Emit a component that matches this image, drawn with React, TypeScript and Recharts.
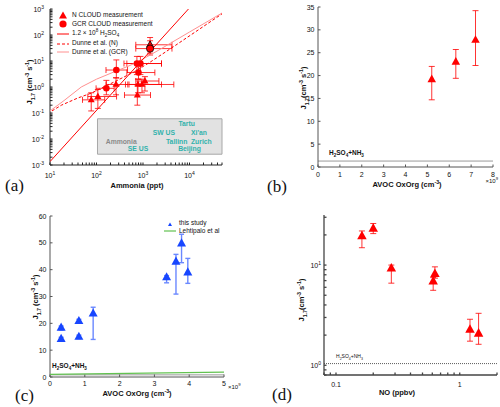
import React from "react";
import {
  ComposedChart,
  Scatter,
  XAxis,
  YAxis,
  ErrorBar,
  ReferenceArea,
  ReferenceLine,
  ReferenceDot,
} from "recharts";

const SANS = "'Liberation Sans', Arial, Helvetica, sans-serif";
const SERIF = "'Liberation Serif', 'Times New Roman', serif";
const RED = "#ff0000";
const PINK = "#ff9090";
const BLUE = "#1746ff";
const LIGHTBLUE = "#6a88ff";
const GREEN = "#62c250";
const TEAL = "#33b2ac";

// ---------- (a) J vs ammonia ----------
const nX = [77, 107, 263, 755, 780, 950, 1100, 1420];
const nY = [0.32, 0.43, 1.25, 0.49, 1.25, 1.25, 1.7, 42];
const nXLo = [50, 65, 160, 400, 420, 500, 700, 700];
const nXHi = [150, 270, 470, 1450, 2500, 4600, 2200, 4200];
const nYLo = [0.12, 0.15, 0.5, 0.2, 0.6, 0.6, 0.7, 20];
const nYHi = [0.6, 0.8, 2.3, 1.2, 2.0, 2.0, 2.5, 80];

const gX = [163, 267, 740, 880, 800, 1420];
const gY = [0.89, 4.5, 8, 8, 3.6, 30];
const gXLo = [98, 160, 390, 450, 450, 700];
const gXHi = [240, 465, 2500, 2500, 1800, 4200];
const gYLo = [0.5, 2.2, 3, 3, 2, 17];
const gYHi = [1.8, 11, 15, 15, 6, 60];

const fitX = [10, 9500];
const fitY = [0.00135, 1000];
const dunneNX = [11, 17.6, 40, 77, 246, 660, 1420, 5000, 50000];
const dunneNY = [0.12, 0.2, 0.38, 0.58, 1.6, 3.9, 9, 40, 650];
const dunneGX = [10, 20, 47, 100, 246, 500, 780, 2000, 10000, 50000];
const dunneGY = [0.12, 0.3, 1.0, 2.0, 3.9, 6.5, 9.3, 24, 130, 700];

const siteNames = ["Ammonia", "SE US", "SW US", "Tartu", "Tallinn", "Xi'an", "Zurich", "Beijing"];
const siteX = [340, 780, 2800, 8700, 5300, 16000, 18000, 10000];
const siteY = [0.0083, 0.0042, 0.017, 0.038, 0.0083, 0.017, 0.0083, 0.0042];

// ---------- (b) J vs AVOC OxOrg (x 1e9) ----------
const bX = [5.2, 6.3, 7.2];
const bY = [19.2, 23, 27.8];
const bLo = [14.7, 19.4, 22.2];
const bHi = [22, 25.7, 34.2];
const bBase = 1.3;

// ---------- (c) this study vs Lehtipalo ----------
const cX = [0.32, 0.32, 0.83, 0.83, 1.24, 3.35, 3.62, 3.78, 3.96];
const cY = [18.4, 14.2, 20.9, 15.0, 23.7, 37.2, 43.0, 49.8, 39.0];
const cLo = [17.5, 13.6, 20.2, 14.3, 14.0, 35.1, 30.9, 42.6, 34.9];
const cHi = [19.0, 14.8, 21.5, 15.6, 26.0, 37.8, 45.7, 53.2, 44.2];
const lehX = [0, 5];
const lehY = [1.0, 1.8];
const cBase = 0.8;

// ---------- (d) J vs NO ----------
const dX = [0.162, 0.2, 0.28, 0.61, 0.63, 1.21, 1.42];
const dY = [19.5, 23.2, 9.3, 6.9, 8.2, 2.27, 2.08];
const dLo = [14.9, 20.6, 6.6, 5.6, 7.4, 1.74, 1.62];
const dHi = [21.9, 26, 10, 7.5, 9.6, 2.88, 3.3];
const dBase = 1.04;

const bXTicks = [0, 1, 2, 3, 4, 5, 6, 7, 8];
const bYTicks = [0, 5, 10, 15, 20, 25, 30, 35];
const cXTicks = [0, 1, 2, 3, 4, 5];
const cYTicks = [0, 10, 20, 30, 40, 50, 60];

const logTicks = (lo: number, hi: number) => {
  const t: number[] = [];
  for (let e = Math.floor(Math.log10(lo)); e <= Math.ceil(Math.log10(hi)); e++)
    for (let m = 1; m < 10; m++) {
      const v = m * Math.pow(10, e);
      if (v >= lo * 0.999 && v <= hi * 1.001) t.push(v);
    }
  return t;
};
const aXTicks = logTicks(10, 50000);
const aYTicks = logTicks(0.001, 1000);
const dXTicks = logTicks(0.08, 2);
const dYTicks = logTicks(0.8, 30);

const rows = (xs: number[], ys: number[], yLo: number[], yHi: number[], xLo?: number[], xHi?: number[]) =>
  xs.map((x, i) => ({
    x,
    y: ys[i],
    ey: [ys[i] - yLo[i], yHi[i] - ys[i]],
    ex: xLo && xHi ? [x - xLo[i], xHi[i] - x] : [0, 0],
  }));
const pts = (xs: number[], ys: number[]) => xs.map((x, i) => ({ x, y: ys[i] }));

const isDecade = (v: number) => Math.abs(Math.log10(v) - Math.round(Math.log10(v))) < 1e-6;

const PowTick = (p: any) => {
  const v = p.payload.value;
  if (!isDecade(v)) return <g />;
  const e = Math.round(Math.log10(v));
  const bottom = p.side === "bottom";
  return (
    <text x={p.x} y={bottom ? p.y + 5.5 : p.y + 2.5} textAnchor={bottom ? "middle" : "end"} fontSize={7} fontFamily={SANS} fill="#111">
      <tspan>10</tspan>
      <tspan dy={-3} fontSize={5}>{e}</tspan>
    </text>
  );
};

const NumTick = (p: any) => {
  const v = p.payload.value;
  const bottom = p.side === "bottom";
  if (p.only && !p.only.some((o: number) => Math.abs(o - v) < 1e-9)) return <g />;
  return (
    <text x={p.x} y={bottom ? p.y + 5.5 : p.y + 2.5} textAnchor={bottom ? "middle" : "end"} fontSize={7} fontFamily={SANS} fill="#111">
      {v}
    </text>
  );
};

const Empty = () => <g />;

const triangle = (w: number, fill: string, stroke = "none") => (p: any) => {
  const { cx, cy } = p;
  const h = w * 0.9;
  return (
    <polygon
      points={`${cx},${cy - h * 0.62} ${cx - w / 2},${cy + h * 0.38} ${cx + w / 2},${cy + h * 0.38}`}
      fill={fill}
      stroke={stroke}
      strokeWidth={0.8}
    />
  );
};
const circle = (r: number, fill: string, stroke = "none") => (p: any) => (
  <circle cx={p.cx} cy={p.cy} r={r} fill={fill} stroke={stroke} strokeWidth={0.8} />
);

const subS: React.CSSProperties = { fontSize: "0.7em", lineHeight: 0 };

const Txt = ({ x, y, children, size = 7.5, bold = true, rotate = false, anchor = "center", color = "#111", family = SANS }: any) => (
  <div
    style={{
      position: "absolute",
      left: x,
      top: y,
      transform: `translate(${anchor === "center" ? "-50%" : anchor === "end" ? "-100%" : "0"}, -50%)${rotate ? " rotate(-90deg)" : ""}`,
      fontSize: size,
      fontWeight: bold ? "bold" : "normal",
      fontFamily: family,
      color,
      whiteSpace: "nowrap",
      lineHeight: 1,
    }}
  >
    {children}
  </div>
);

const JLabel = ({ space = true }: { space?: boolean }) => (
  <>
    J<sub style={subS}>1.7</sub>
    {space ? " " : ""}(cm<sup style={subS}>-3</sup> s<sup style={subS}>-1</sup>)
  </>
);
const H2 = () => (
  <>
    H<sub style={subS}>2</sub>SO<sub style={subS}>4</sub>+NH<sub style={subS}>3</sub>
  </>
);

const LegIcon = ({ kind }: { kind: string }) => (
  <svg width={12} height={8} style={{ display: "block" }}>
    {kind === "tri" && <polygon points="6,0.5 2,7.5 10,7.5" fill={RED} />}
    {kind === "circ" && <circle cx={6} cy={4} r={3.6} fill={RED} />}
    {kind === "solid" && <line x1={0} y1={4} x2={12} y2={4} stroke={RED} strokeWidth={1} />}
    {kind === "dash" && <line x1={0} y1={4} x2={12} y2={4} stroke={RED} strokeWidth={1} strokeDasharray="3 2" />}
    {kind === "pink" && <line x1={0} y1={4} x2={12} y2={4} stroke={PINK} strokeWidth={1} />}
    {kind === "blue" && <polygon points="6,2.5 4,6 8,6" fill={BLUE} />}
    {kind === "green" && <line x1={0} y1={4} x2={12} y2={4} stroke={GREEN} strokeWidth={1.2} />}
  </svg>
);

const LegRow = ({ x, y, kind, children }: any) => (
  <div style={{ position: "absolute", left: x, top: y - 4, display: "flex", alignItems: "center", fontSize: 6.5, fontFamily: SANS, color: "#111", whiteSpace: "nowrap", lineHeight: 1 }}>
    <LegIcon kind={kind} />
    <span style={{ marginLeft: 3 }}>{children}</span>
  </div>
);

function PanelA() {
  const dom: [number, number] = [10, 50000];
  const ydom: [number, number] = [0.001, 1000];
  const ax = "#222";
  return (
    <>
      <div style={{ position: "absolute", left: 0, top: 0 }}>
        <ComposedChart width={250} height={200} margin={{ top: 9, right: 28, left: 0, bottom: 15 }}>
          <XAxis dataKey="x" type="number" scale="log" domain={dom} allowDataOverflow ticks={aXTicks} interval={0}
            tick={(p: any) => <PowTick {...p} side="bottom" />} tickSize={-2.5} tickMargin={9.5} height={20} stroke={ax} />
          <XAxis xAxisId="top" orientation="top" type="number" scale="log" domain={dom} allowDataOverflow ticks={aXTicks}
            interval={0} tick={false} tickSize={-2.5} height={0} stroke={ax} />
          <YAxis dataKey="y" type="number" scale="log" domain={ydom} allowDataOverflow ticks={aYTicks} interval={0}
            tick={(p: any) => <PowTick {...p} side="left" />} tickSize={-2.5} tickMargin={8.5} width={50} stroke={ax} />
          <YAxis yAxisId="right" orientation="right" type="number" scale="log" domain={ydom} allowDataOverflow ticks={aYTicks}
            interval={0} tick={false} tickSize={-2.5} width={0} stroke={ax} />
          <ReferenceArea x1={105} x2={50000} y1={0.0026} y2={0.06} fill="#e2e2e2" fillOpacity={1} stroke="#a8a8a8" />
          {siteNames.map((s, i) => (
            <ReferenceDot key={s} x={siteX[i]} y={siteY[i]} r={0} fill="none" stroke="none"
              label={{ value: s, position: "center", fill: i === 0 ? "#8a8a8a" : TEAL, fontSize: 6.8, fontWeight: "bold", fontFamily: SANS }} />
          ))}
          <Scatter data={pts(dunneGX, dunneGY)} line={{ stroke: PINK, strokeWidth: 1 }} shape={Empty} isAnimationActive={false} />
          <Scatter data={pts(dunneNX, dunneNY)} line={{ stroke: RED, strokeWidth: 1, strokeDasharray: "3 2" }} shape={Empty} isAnimationActive={false} />
          <Scatter data={pts(fitX, fitY)} line={{ stroke: RED, strokeWidth: 1 }} shape={Empty} isAnimationActive={false} />
          <Scatter data={rows(nX.slice(0, 7), nY.slice(0, 7), nYLo, nYHi, nXLo, nXHi)} shape={triangle(7, RED)} isAnimationActive={false}>
            <ErrorBar dataKey="ex" direction="x" width={3} stroke={RED} strokeWidth={0.8} />
            <ErrorBar dataKey="ey" direction="y" width={3} stroke={RED} strokeWidth={0.8} />
          </Scatter>
          <Scatter data={rows(gX.slice(0, 5), gY.slice(0, 5), gYLo, gYHi, gXLo, gXHi)} shape={circle(3.3, RED)} isAnimationActive={false}>
            <ErrorBar dataKey="ex" direction="x" width={3} stroke={RED} strokeWidth={0.8} />
            <ErrorBar dataKey="ey" direction="y" width={3} stroke={RED} strokeWidth={0.8} />
          </Scatter>
          <Scatter data={rows(nX.slice(7), nY.slice(7), nYLo.slice(7), nYHi.slice(7), nXLo.slice(7), nXHi.slice(7))} shape={triangle(7, RED, "#000")} isAnimationActive={false}>
            <ErrorBar dataKey="ex" direction="x" width={3} stroke={RED} strokeWidth={0.8} />
            <ErrorBar dataKey="ey" direction="y" width={3} stroke={RED} strokeWidth={0.8} />
          </Scatter>
          <Scatter data={rows(gX.slice(5), gY.slice(5), gYLo.slice(5), gYHi.slice(5), gXLo.slice(5), gXHi.slice(5))} shape={circle(3.6, RED, "#000")} isAnimationActive={false}>
            <ErrorBar dataKey="ex" direction="x" width={3} stroke={RED} strokeWidth={0.8} />
            <ErrorBar dataKey="ey" direction="y" width={3} stroke={RED} strokeWidth={0.8} />
          </Scatter>
        </ComposedChart>
      </div>
      <LegRow x={57} y={15} kind="tri">N CLOUD measurement</LegRow>
      <LegRow x={57} y={24} kind="circ">GCR CLOUD measurement</LegRow>
      <LegRow x={57} y={33.5} kind="solid">
        1.2 × 10<sup style={subS}>8</sup> H<sub style={subS}>2</sub>SO<sub style={subS}>4</sub>
      </LegRow>
      <LegRow x={57} y={43.5} kind="dash">Dunne et al. (N)</LegRow>
      <LegRow x={57} y={52} kind="pink">Dunne et al. (GCR)</LegRow>
      <Txt x={137} y={186}>Ammonia (ppt)</Txt>
      <Txt x={30} y={82} rotate><JLabel /></Txt>
      <Txt x={5} y={185} size={17} bold={false} anchor="start" family={SERIF}>(a)</Txt>
    </>
  );
}

function PanelB() {
  const ax = "#555";
  return (
    <>
      <div style={{ position: "absolute", left: 250, top: 0 }}>
        <ComposedChart width={250} height={200} margin={{ top: 7, right: 7, left: 18, bottom: 13 }}>
          <XAxis dataKey="x" type="number" domain={[0, 8]} ticks={bXTicks} interval={0}
            tick={(p: any) => <NumTick {...p} side="bottom" />} tickSize={-2.5} tickMargin={7} height={20} stroke={ax} />
          <XAxis xAxisId="top" orientation="top" type="number" domain={[0, 8]} ticks={bXTicks} interval={0}
            tick={false} tickSize={-2.5} height={0} stroke={ax} />
          <YAxis dataKey="y" type="number" domain={[0, 35]} ticks={bYTicks} interval={0}
            tick={(p: any) => <NumTick {...p} side="left" />} tickSize={-2.5} tickMargin={6} width={50} stroke={ax} />
          <YAxis yAxisId="right" orientation="right" type="number" domain={[0, 35]} ticks={bYTicks} interval={0}
            tick={false} tickSize={-2.5} width={0} stroke={ax} />
          <ReferenceLine y={bBase} stroke="#9a9a9a" strokeWidth={1} />
          <Scatter data={rows(bX, bY, bLo, bHi)} shape={triangle(8.5, RED)} isAnimationActive={false}>
            <ErrorBar dataKey="ey" direction="y" width={3} stroke={RED} strokeWidth={0.8} />
          </Scatter>
        </ComposedChart>
      </div>
      <Txt x={329} y={153} size={6.5} anchor="start"><H2 /></Txt>
      <Txt x={498} y={181} size={6} bold={false} anchor="end">×10<sup style={subS}>9</sup></Txt>
      <Txt x={407} y={185}>AVOC OxOrg (cm<sup style={subS}>-3</sup>)</Txt>
      <Txt x={304} y={88} rotate><JLabel space={false} /></Txt>
      <Txt x={267} y={186} size={17} bold={false} anchor="start" family={SERIF}>(b)</Txt>
    </>
  );
}

function PanelC() {
  const ax = "#555";
  return (
    <>
      <div style={{ position: "absolute", left: 0, top: 200 }}>
        <ComposedChart width={250} height={207} margin={{ top: 16, right: 26, left: 0, bottom: 10 }}>
          <XAxis dataKey="x" type="number" domain={[0, 5]} ticks={cXTicks} interval={0}
            tick={(p: any) => <NumTick {...p} side="bottom" />} tickSize={-2.5} tickMargin={6} height={20} stroke={ax} />
          <XAxis xAxisId="top" orientation="top" type="number" domain={[0, 5]} ticks={cXTicks} interval={0}
            tick={false} tickSize={-2.5} height={0} stroke={ax} />
          <YAxis dataKey="y" type="number" domain={[0, 60]} ticks={cYTicks} interval={0}
            tick={(p: any) => <NumTick {...p} side="left" />} tickSize={-2.5} tickMargin={6} width={50} stroke={ax} />
          <YAxis yAxisId="right" orientation="right" type="number" domain={[0, 60]} ticks={cYTicks} interval={0}
            tick={false} tickSize={-2.5} width={0} stroke={ax} />
          <ReferenceLine y={cBase} stroke="#9a9a9a" strokeWidth={1} />
          <Scatter data={pts(lehX, lehY)} line={{ stroke: GREEN, strokeWidth: 1.2 }} shape={Empty} isAnimationActive={false} />
          <Scatter data={rows(cX, cY, cLo, cHi)} shape={triangle(9, BLUE)} isAnimationActive={false}>
            <ErrorBar dataKey="ey" direction="y" width={2.5} stroke={LIGHTBLUE} strokeWidth={1.4} />
          </Scatter>
        </ComposedChart>
      </div>
      <LegRow x={164} y={223.5} kind="blue">this study</LegRow>
      <LegRow x={164} y={231} kind="green">Lehtipalo et al</LegRow>
      <Txt x={52} y={366} size={6.5} anchor="start"><H2 /></Txt>
      <Txt x={228} y={387} size={6} bold={false} anchor="start">×10<sup style={subS}>9</sup></Txt>
      <Txt x={137} y={394}>AVOC OxOrg (cm<sup style={subS}>-3</sup>)</Txt>
      <Txt x={36} y={297} rotate><JLabel /></Txt>
      <Txt x={15} y={395} size={17} bold={false} anchor="start" family={SERIF}>(c)</Txt>
    </>
  );
}

function PanelD() {
  const ax = "#444";
  const xdom: [number, number] = [0.08, 2];
  const ydom: [number, number] = [0.8, 31.6];
  return (
    <>
      <div style={{ position: "absolute", left: 250, top: 200 }}>
        <ComposedChart width={250} height={207} margin={{ top: 15, right: 3, left: 24, bottom: 12 }}>
          <XAxis dataKey="x" type="number" scale="log" domain={xdom} allowDataOverflow ticks={dXTicks} interval={0}
            tick={(p: any) => <NumTick {...p} side="bottom" only={[0.1, 1]} />} tickSize={-2.5} tickMargin={9} height={20} stroke={ax} strokeWidth={1.3} />
          <XAxis xAxisId="top" orientation="top" type="number" scale="log" domain={xdom} allowDataOverflow ticks={dXTicks}
            interval={0} tick={false} tickSize={-2.5} height={0} stroke={ax} strokeWidth={1.3} />
          <YAxis dataKey="y" type="number" scale="log" domain={ydom} allowDataOverflow ticks={dYTicks} interval={0}
            tick={(p: any) => <PowTick {...p} side="left" />} tickSize={-2.5} tickMargin={5.5} width={50} stroke={ax} strokeWidth={1.3} />
          <YAxis yAxisId="right" orientation="right" type="number" scale="log" domain={ydom} allowDataOverflow ticks={dYTicks}
            interval={0} tick={false} tickSize={-2.5} width={0} stroke={ax} strokeWidth={1.3} />
          <ReferenceLine y={dBase} stroke="#333" strokeWidth={0.8} strokeDasharray="1 1" />
          <Scatter data={rows(dX, dY, dLo, dHi)} shape={triangle(9.5, RED)} isAnimationActive={false}>
            <ErrorBar dataKey="ey" direction="y" width={3} stroke={RED} strokeWidth={0.8} />
          </Scatter>
        </ComposedChart>
      </div>
      <Txt x={336} y={356} size={5} bold={false} anchor="start"><H2 /></Txt>
      <Txt x={397} y={393}>NO (ppbv)</Txt>
      <Txt x={302} y={300} rotate><JLabel space={false} /></Txt>
      <Txt x={272} y={394} size={17} bold={false} anchor="start" family={SERIF}>(d)</Txt>
    </>
  );
}

export default function App() {
  return (
    <div style={{ position: "absolute", left: 0, top: 0, width: 500, height: 407, background: "#fff", fontFamily: SANS }}>
      <PanelA />
      <PanelB />
      <PanelC />
      <PanelD />
    </div>
  );
}
